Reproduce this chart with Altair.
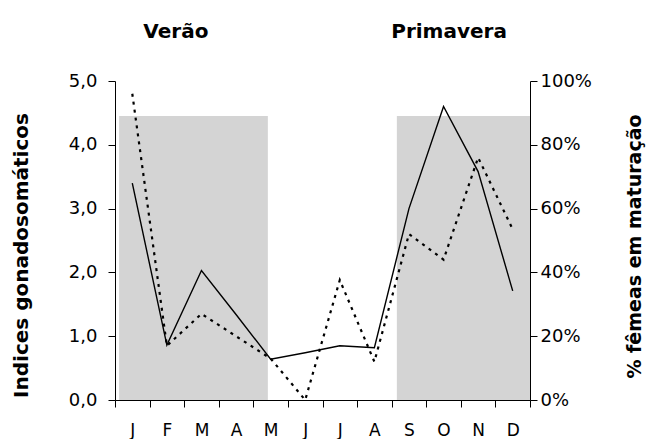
import json

import altair as alt
import pandas as pd

# Monthly values
months = ["J", "F", "M", "A", "M", "J", "J", "A", "S", "O", "N", "D"]
igs = [3.40, 0.86, 2.03, 1.34, 0.64, 0.74, 0.85, 0.82, 3.00, 4.60, 3.58, 1.71]
femeas_pct = [96, 17, 27, 20, 13, 0, 37.6, 12, 52, 44, 76, 53.5]

# Seasons (x in month units, 0 = start of January)
season_names = ["Verão", "Primavera"]
season_start = [0.12, 8.15]
season_end = [4.42, 12.0]
season_label_x = [1.76, 9.66]
shade_top = 4.45

pos = [i + 0.5 for i in range(len(months))]
lines = pd.DataFrame({"pos": pos, "mes": months, "igs": igs, "pct": femeas_pct})
seasons = pd.DataFrame({
    "estacao": season_names,
    "x0": season_start,
    "x1": season_end,
    "xl": season_label_x,
    "y0": [0.0] * len(season_names),
    "y1": [shade_top] * len(season_names),
})

FONT = "DejaVu Sans"
W, H = 415, 319

month_expr = "datum.value < 12 ? " + json.dumps(months) + "[datum.value] : ''"

x_scale = alt.Scale(domain=[0, 12], nice=False, zero=False)
x_axis = alt.Axis(
    values=list(range(13)), labelExpr=month_expr, labelOffset=17.3,
    tickSize=7, labelPadding=15, labelFont=FONT, labelFontSize=17,
    labelColor="black", domainColor="black", tickColor="black",
    grid=False, title=None, labelFlush=False, labelOverlap=False,
)

left_scale = alt.Scale(domain=[0, 5], nice=False, zero=True)
left_axis = alt.Axis(
    values=[0, 1, 2, 3, 4, 5],
    labelExpr="replace(format(datum.value, '.1f'), '.', ',')",
    tickSize=7, labelPadding=11, labelFont=FONT, labelFontSize=18,
    labelColor="black", domainColor="black", tickColor="black", grid=False,
    title="Indices gonadosomáticos", titleFont=FONT, titleFontSize=20,
    titleFontWeight="bold", titleColor="black", titleAngle=270,
    titleAlign="center", titleBaseline="middle", titleX=-94, titleY=174,
)

right_scale = alt.Scale(domain=[0, 100], nice=False, zero=True)
right_axis = alt.Axis(
    orient="right", values=[0, 20, 40, 60, 80, 100],
    labelExpr="datum.value + '%'",
    tickSize=7, labelPadding=3, labelFont=FONT, labelFontSize=18,
    labelColor="black", domainColor="black", tickColor="black", grid=False,
    title="% fêmeas em maturação", titleFont=FONT, titleFontSize=19,
    titleFontWeight="bold", titleColor="black", titleAngle=270,
    titleAlign="center", titleBaseline="middle", titleX=104, titleY=165,
)

shade = alt.Chart(seasons).mark_rect(color="#d4d4d4").encode(
    x=alt.X("x0:Q", scale=x_scale, axis=x_axis),
    x2="x1:Q",
    y=alt.Y("y0:Q", scale=left_scale, axis=left_axis),
    y2="y1:Q",
)

season_text = alt.Chart(seasons).mark_text(
    font=FONT, fontSize=20, fontWeight="bold", color="black",
    align="center", baseline="alphabetic",
).encode(
    x=alt.X("xl:Q", scale=x_scale, axis=x_axis),
    y=alt.value(-43),
    text="estacao:N",
)

solid = alt.Chart(lines).mark_line(color="black", strokeWidth=1.4).encode(
    x=alt.X("pos:Q", scale=x_scale, axis=x_axis),
    y=alt.Y("igs:Q", scale=left_scale, axis=left_axis),
)

dotted = alt.Chart(lines).mark_line(
    color="black", strokeWidth=2.2, strokeDash=[3, 5]
).encode(
    x=alt.X("pos:Q", scale=x_scale, axis=x_axis),
    y=alt.Y("pct:Q", scale=right_scale, axis=right_axis),
)

chart = alt.layer(
    alt.layer(shade, season_text, solid),
    dotted,
).resolve_scale(
    y="independent"
).properties(
    width=W, height=H,
    autosize=alt.AutoSizeParams(type="none"),
    padding={"left": 115, "top": 81, "right": 119, "bottom": 39},
    background="white",
).configure_view(stroke=None)

chart.save("out.html", embed_options={"renderer": "svg", "actions": False})
